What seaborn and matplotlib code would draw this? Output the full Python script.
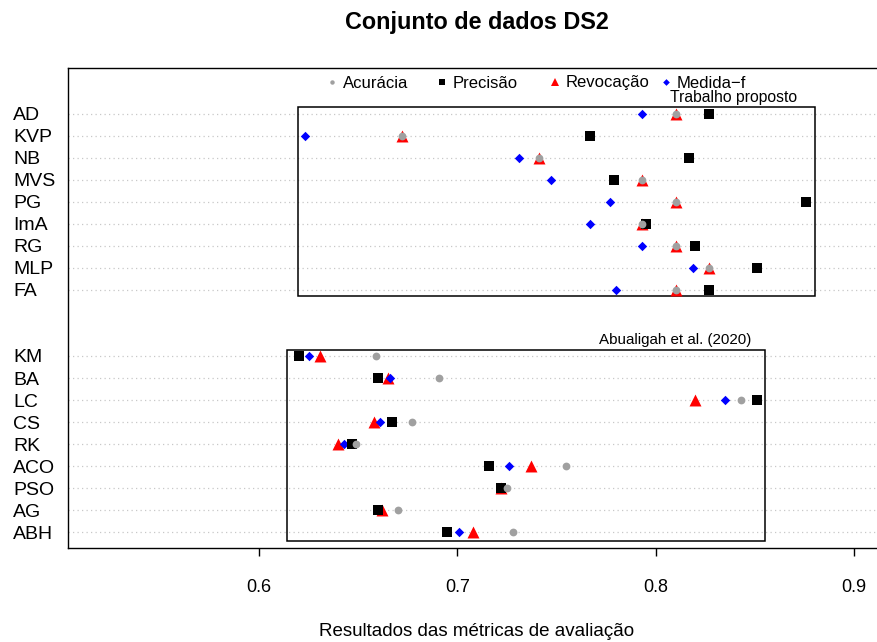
import numpy as np
import pandas as pd
import matplotlib
matplotlib.use("Agg")
import matplotlib.pyplot as plt
import seaborn as sns
from matplotlib.lines import Line2D
from matplotlib.patches import Rectangle

# ---------------- data ----------------
labels_top = ["AD", "KVP", "NB", "MVS", "PG", "ImA", "RG", "MLP", "FA"]
acc_top = [0.810, 0.672, 0.741, 0.793, 0.810, 0.793, 0.810, 0.827, 0.810]
prec_top = [0.827, 0.767, 0.817, 0.779, 0.876, 0.795, 0.820, 0.851, 0.827]
rev_top = [0.810, 0.672, 0.741, 0.793, 0.810, 0.793, 0.810, 0.827, 0.810]
f_top = [0.793, 0.623, 0.731, 0.747, 0.777, 0.767, 0.793, 0.819, 0.780]

labels_bot = ["KM", "BA", "LC", "CS", "RK", "ACO", "PSO", "AG", "ABH"]
acc_bot = [0.659, 0.691, 0.843, 0.677, 0.649, 0.755, 0.725, 0.670, 0.728]
prec_bot = [0.620, 0.660, 0.851, 0.667, 0.647, 0.716, 0.722, 0.660, 0.695]
rev_bot = [0.631, 0.665, 0.820, 0.658, 0.640, 0.737, 0.722, 0.662, 0.708]
f_bot = [0.625, 0.666, 0.835, 0.661, 0.643, 0.726, 0.722, 0.660, 0.701]

metric_names = ["Acurácia", "Precisão", "Revocação", "Medida\u2212f"]
group_names = ["Trabalho proposto", "Abualigah et al. (2020)"]
x_ticks = [0.6, 0.7, 0.8, 0.9]

# row positions (R dotchart style: bottom = 1)
rows_bot = list(range(9, 0, -1))          # KM=9 ... ABH=1
rows_top = list(range(20, 11, -1))        # AD=20 ... FA=12

labels = labels_top + labels_bot
rows = rows_top + rows_bot
df = pd.DataFrame({
    "modelo": labels,
    "linha": rows,
    metric_names[0]: acc_top + acc_bot,
    metric_names[1]: prec_top + prec_bot,
    metric_names[2]: rev_top + rev_bot,
    metric_names[3]: f_top + f_bot,
})

# ---------------- style ----------------
sns.set_theme(style="white")
plt.rcParams["font.family"] = ["Liberation Sans", "DejaVu Sans"]
plt.rcParams["axes.linewidth"] = 1.0
for k in ["text.color", "axes.labelcolor", "xtick.color", "ytick.color", "axes.edgecolor"]:
    plt.rcParams[k] = "black"

W, H = 877, 642
fig = plt.figure(figsize=(W / 100, H / 100), dpi=100)
# plot region in pixels
L, R, T, B = 68, 886, 68, 548
ax = fig.add_axes([L / W, 1 - B / H, (R - L) / W, (B - T) / H])

px_per = (854 - 259) / 0.3
ax.set_xlim(0.6 - (259 - L) / px_per, 0.6 + (R - 259) / px_per)
row_px = 22.04
ax.set_ylim(1 - (B - 532.3) / row_px, 1 + (532.3 - T) / row_px)

# dotted guide lines
for r in rows:
    ax.axhline(r, color="#C8C8C8", linestyle=(0, (1, 2.6)), linewidth=0.9, zorder=0)

styles = {
    metric_names[2]: dict(marker="^", color="#FF0000", s=8.6 ** 2),
    metric_names[3]: dict(marker="D", color="#0000FF", s=4.8 ** 2),
    metric_names[1]: dict(marker="s", color="#000000", s=6.6 ** 2),
    metric_names[0]: dict(marker="o", color="#A0A0A0", s=5.6 ** 2),
}
for m in [metric_names[2], metric_names[3], metric_names[1], metric_names[0]]:
    st = styles[m]
    sns.scatterplot(data=df, x=m, y="linha", marker=st["marker"], color=st["color"],
                    s=st["s"], linewidth=0, ax=ax, legend=False, zorder=3)

# group boxes
ax.add_patch(Rectangle((0.6195, 11.72), 0.8804 - 0.6195, 20.31 - 11.72,
                       fill=False, edgecolor="black", linewidth=1.1, zorder=2))
ax.add_patch(Rectangle((0.6143, 0.605), 0.8552 - 0.6143, 9.27 - 0.605,
                       fill=False, edgecolor="black", linewidth=1.1, zorder=2))
ax.text(0.8393, 20.75, group_names[0], ha="center", va="center", fontsize=11.3)
ax.text(0.8100, 9.72, group_names[1], ha="center", va="center", fontsize=10.9)

# axes
ax.set_yticks(rows)
ax.set_yticklabels(labels, fontsize=14)
ax.tick_params(axis="y", length=0, pad=55 / 1.389)
for t in ax.get_yticklabels():
    t.set_horizontalalignment("left")
ax.set_xticks(x_ticks)
ax.set_xticklabels([f"{v:.1f}" for v in x_ticks], fontsize=13)
ax.tick_params(axis="x", direction="out", length=6, width=1, pad=16, bottom=True)
for s in ["top", "right", "left", "bottom"]:
    ax.spines[s].set_visible(True)
    ax.spines[s].set_color("black")
ax.set_ylabel("")
ax.set_xlabel("Resultados das métricas de avaliação", fontsize=13.5)
ax.xaxis.set_label_coords(0.5, -(632 - B) / (B - T))
ax.xaxis.label.set_verticalalignment("center")

fig.suptitle("Conjunto de dados DS2", x=(L + R) / 2 / W, y=1 - 22 / H,
             va="center", fontsize=16.8, fontweight="bold")

# legend (horizontal, equal spacing)
leg_specs = [
    (metric_names[0], "o", "#A0A0A0", 3.2, 332),
    (metric_names[1], "s", "#000000", 4.6, 442),
    (metric_names[2], "^", "#FF0000", 6.0, 555),
    (metric_names[3], "D", "#0000FF", 3.4, 666),
]
for i, (name, mk, col, ms, xc) in enumerate(leg_specs):
    h = Line2D([], [], linestyle="none", marker=mk, color=col, markersize=ms,
               markeredgewidth=0)
    lg = fig.legend(handles=[h], labels=[name], loc="center left",
                    bbox_to_anchor=((xc - 5) / W, 1 - 83 / H), frameon=False,
                    fontsize=12, handlelength=0.6, handletextpad=0.35,
                    borderpad=0, borderaxespad=0)

fig.savefig("out.png", dpi=100)
